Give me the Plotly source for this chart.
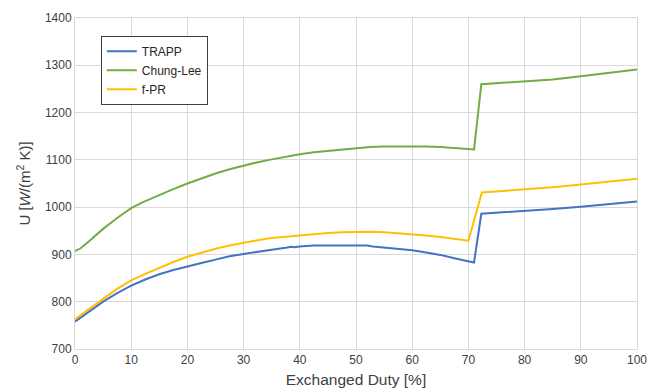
import plotly.graph_objects as go

# Data
trapp_x = [0, 2.5, 5, 7.5, 10, 12.5, 15, 17.5, 20, 22.5, 25, 27.5, 30, 32.5, 35, 37.5, 38.5, 39, 40, 42.5, 45, 47.5, 50, 52, 53, 55, 57.5, 60, 62.5, 65, 67.5, 70, 71, 72.3, 75, 80, 85, 90, 95, 100]
trapp_y = [758, 779, 800, 818, 834, 847, 858, 867, 875, 882, 889, 896, 901, 906, 910, 914, 916, 915, 917, 919, 919, 919.5, 920, 919, 917, 915, 912, 909, 904, 899, 892, 886, 883, 986, 988, 991, 996, 1001, 1006, 1012]

chung_x = [0, 1, 2.5, 5, 7.5, 10, 12, 15, 17.5, 20, 22.5, 25, 27.5, 30, 32.5, 35, 37.5, 40, 42.5, 45, 47.5, 50, 52.5, 55, 57.5, 60, 62.5, 65, 67.5, 70, 71, 72.3, 75, 80, 85, 90, 95, 100]
chung_y = [907, 913, 928, 954, 977, 998, 1010, 1026, 1038, 1050, 1061, 1071, 1080, 1088, 1095, 1101, 1107, 1112, 1116, 1119, 1122, 1125, 1127, 1128, 1128.5, 1128.5, 1128, 1127, 1125, 1123, 1122, 1260, 1262, 1265, 1270, 1277, 1284, 1291]

fpr_x = [0, 2.5, 5, 7.5, 10, 12.5, 15, 17.5, 20, 22.5, 25, 27.5, 30, 32.5, 35, 37.5, 40, 42.5, 45, 47.5, 50, 52.5, 55, 57.5, 60, 62.5, 65, 67.5, 70, 72.4, 75, 80, 85, 90, 95, 100]
fpr_y = [763, 785, 806, 827, 845, 859, 872, 884, 895, 904, 912, 919, 925, 930, 935, 938, 941, 943.5, 945.5, 947, 948, 948, 947, 945, 943, 940, 937, 933, 929, 1031, 1033, 1037, 1042, 1048, 1054, 1060]

x_ticks = [0, 10, 20, 30, 40, 50, 60, 70, 80, 90, 100]
y_ticks = [700, 800, 900, 1000, 1100, 1200, 1300, 1400]

font_family = "Arial, Liberation Sans, sans-serif"

fig = go.Figure()
fig.add_trace(go.Scatter(x=trapp_x, y=trapp_y, mode="lines", name="TRAPP",
                         line=dict(color="#4472C4", width=2)))
fig.add_trace(go.Scatter(x=chung_x, y=chung_y, mode="lines", name="Chung-Lee",
                         line=dict(color="#70AD47", width=2)))
fig.add_trace(go.Scatter(x=fpr_x, y=fpr_y, mode="lines", name="f-PR",
                         line=dict(color="#FFC000", width=2)))

fig.update_layout(
    width=647, height=392,
    margin=dict(l=75, r=10, t=18, b=43),
    paper_bgcolor="white", plot_bgcolor="white",
    font=dict(family=font_family, size=12, color="#404040"),
    showlegend=True,
    legend=dict(x=0.046, y=0.946, xanchor="left", yanchor="top",
                bgcolor="white", bordercolor="#404040", borderwidth=1,
                font=dict(size=12, color="#262626"),
                itemwidth=30, tracegroupgap=0),
    xaxis=dict(range=[0, 100], tickvals=x_ticks, showgrid=True,
               gridcolor="#D9D9D9", gridwidth=1, zeroline=False,
               showline=True, linecolor="#D9D9D9", linewidth=1, mirror=True,
               ticks="", ticklabeloverflow="allow", automargin=False,
               tickfont=dict(size=12, color="#404040"),
               title=dict(text="Exchanged Duty [%]", font=dict(size=15.5, color="#404040"), standoff=7)),
    yaxis=dict(range=[700, 1400], tickvals=y_ticks, showgrid=True,
               gridcolor="#D9D9D9", gridwidth=1, zeroline=False,
               showline=True, linecolor="#D9D9D9", linewidth=1, mirror=True,
               ticks="", ticklabeloverflow="allow", automargin=False,
               tickfont=dict(size=12, color="#404040"),
               title=dict(text="U [<i>W</i>/(m<sup>2</sup> K)]", font=dict(size=15, color="#404040"), standoff=10)),
)

fig.write_html("out.html")
